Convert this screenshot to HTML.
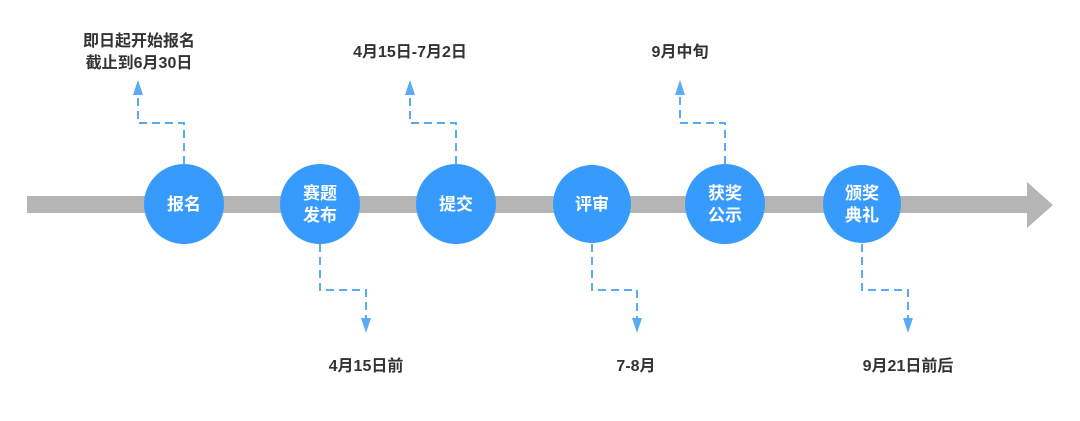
<!DOCTYPE html>
<html><head><meta charset="utf-8"><style>
html,body{margin:0;padding:0;background:#fff;}
svg text{font-family:"Liberation Sans","Noto Sans CJK SC",sans-serif;font-weight:bold;}
</style></head><body>
<svg width="1080" height="416" viewBox="0 0 1080 416" xmlns="http://www.w3.org/2000/svg">
<rect x="27" y="196" width="1002" height="17" fill="#b5b5b5"/>
<polygon points="1027,182 1053,205 1027,228" fill="#b5b5b5"/>
<g stroke="#5aabf7" stroke-width="2" stroke-dasharray="8,5" fill="none">
<path d="M184,164 V123 H138 V92"/>
<path d="M456,164 V123 H410 V92"/>
<path d="M725,164 V123 H680 V92"/>
<path d="M320,244 V290 H366 V320"/>
<path d="M592,244 V290 H637 V320"/>
<path d="M862,244 V290 H908 V320"/>
</g>
<g fill="#5aabf7">
<polygon points="138,80 133,95 143,95"/>
<polygon points="410,80 405,95 415,95"/>
<polygon points="680,80 675,95 685,95"/>
<polygon points="366,333 361,318 371,318"/>
<polygon points="637,333 632,318 642,318"/>
<polygon points="908,333 903,318 913,318"/>
</g>
<g fill="#379bfd">
<circle cx="184" cy="204" r="40"/>
<circle cx="320" cy="204" r="40"/>
<circle cx="456" cy="204" r="40"/>
<circle cx="592" cy="204" r="39"/>
<circle cx="725" cy="204" r="40"/>
<circle cx="862" cy="204" r="39"/>
</g>
<g fill="#fff" font-size="17" text-anchor="middle">
<text x="184" y="210">报名</text>
<text x="320" y="199">赛题</text>
<text x="320" y="221">发布</text>
<text x="456" y="210">提交</text>
<text x="592" y="210">评审</text>
<text x="725" y="199">获奖</text>
<text x="725" y="221">公示</text>
<text x="862" y="199">颁奖</text>
<text x="862" y="221">典礼</text>
</g>
<g fill="#333" font-size="16" text-anchor="middle">
<text x="139" y="46">即日起开始报名</text>
<text x="139" y="68">截止到6月30日</text>
<text x="410" y="57">4月15日-7月2日</text>
<text x="680" y="57">9月中旬</text>
<text x="366" y="371">4月15日前</text>
<text x="636" y="371">7-8月</text>
<text x="908" y="371">9月21日前后</text>
</g>
</svg>
</body></html>
